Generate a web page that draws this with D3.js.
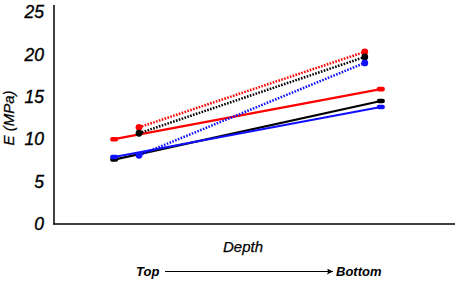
<!DOCTYPE html>
<html>
<head>
<meta charset="utf-8">
<script src="https://cdn.jsdelivr.net/npm/d3@7"></script>
<style>
  body { margin: 0; background: #fff; }
  text { font-family: "Liberation Sans", Arial, sans-serif; font-style: italic; }
</style>
</head>
<body>
<div id="chart"></div>
<script>
// depth positions (top -> bottom) for the two kinds of series
const depthSolid = [1.5, 8.15]
const depthDotted = [2.12, 7.75]

// E values (MPa) at top and bottom
const redSolid = [10.0, 15.9]
const blackSolid = [7.6, 14.5]
const blueSolid = [7.9, 13.8]
const redDotted = [11.4, 20.3]
const blackDotted = [10.7, 19.7]
const blueDotted = [8.1, 19.0]

const yTicks = [0, 5, 10, 15, 20, 25]

const series = [
    {depth: depthSolid, vals: redSolid, color: "#ff0000", dotted: false},
    {depth: depthSolid, vals: blackSolid, color: "#000000", dotted: false},
    {depth: depthSolid, vals: blueSolid, color: "#1010ff", dotted: false},
    {depth: depthDotted, vals: redDotted, color: "#ff0000", dotted: true},
    {depth: depthDotted, vals: blackDotted, color: "#000000", dotted: true},
    {depth: depthDotted, vals: blueDotted, color: "#1010ff", dotted: true}
]

const width = 457
const height = 282

const svg = d3.select("#chart")
    .append("svg")
    .attr("width", width)
    .attr("height", height)

const x = d3.scaleLinear().domain([0, 10]).range([54, 455])
const y = d3.scaleLinear().domain([0, 25]).range([224, 12])

// axes
const yAxis = svg.append("g")
    .attr("transform", "translate(54,0)")
    .call(d3.axisLeft(y).tickValues(yTicks).tickSize(0).tickPadding(10))
yAxis.select(".domain").remove()
yAxis.selectAll("text")
    .style("font-size", "17.5px")
    .attr("fill", "#000")
    .attr("stroke", "#000")
    .attr("stroke-width", 0.35)

svg.append("line")
    .attr("x1", 54).attr("x2", 54)
    .attr("y1", 5).attr("y2", 224.5)
    .attr("stroke", "#000").attr("stroke-width", 1.5)
svg.append("line")
    .attr("x1", 53.3).attr("x2", 455)
    .attr("y1", 224).attr("y2", 224)
    .attr("stroke", "#000").attr("stroke-width", 1.5)

// lines
const line = d3.line()
    .x(d => x(d[0]))
    .y(d => y(d[1]))

series.forEach(s => {
    const pts = s.depth.map((d, i) => [d, s.vals[i]])
    svg.append("path")
        .datum(pts)
        .attr("d", line)
        .attr("fill", "none")
        .attr("stroke", s.color)
        .attr("stroke-width", s.dotted ? 2.5 : 2.2)
        .attr("stroke-dasharray", s.dotted ? "1.6,1.4" : null)

    if (s.dotted) {
        svg.selectAll(null)
            .data(pts)
            .join("circle")
            .attr("cx", d => x(d[0]))
            .attr("cy", d => y(d[1]))
            .attr("r", 3.4)
            .attr("fill", s.color)
    } else {
        svg.selectAll(null)
            .data(pts)
            .join("rect")
            .attr("x", d => x(d[0]) - 4)
            .attr("y", d => y(d[1]) - 2.3)
            .attr("width", 8)
            .attr("height", 4.6)
            .attr("rx", 2)
            .attr("fill", s.color)
    }
})

// titles
svg.append("text")
    .attr("transform", "translate(14,118) rotate(-90)")
    .attr("text-anchor", "middle")
    .style("font-size", "15px")
    .attr("stroke", "#000")
    .attr("stroke-width", 0.25)
    .text("E (MPa)")

svg.append("text")
    .attr("x", 243).attr("y", 252)
    .attr("text-anchor", "middle")
    .style("font-size", "15px")
    .attr("stroke", "#000")
    .attr("stroke-width", 0.25)
    .text("Depth")

svg.append("text")
    .attr("x", 136).attr("y", 276)
    .style("font-size", "13px")
    .style("font-weight", "bold")
    .text("Top")
svg.append("text")
    .attr("x", 336).attr("y", 276)
    .style("font-size", "13px")
    .style("font-weight", "bold")
    .text("Bottom")

// arrow
svg.append("defs").append("marker")
    .attr("id", "arrow")
    .attr("viewBox", "0 0 10 10")
    .attr("refX", 10).attr("refY", 5)
    .attr("markerWidth", 11).attr("markerHeight", 6)
    .attr("markerUnits", "userSpaceOnUse")
    .attr("orient", "auto")
    .append("path")
    .attr("d", "M0,0 L10,5 L0,10 L2,5 Z")
    .attr("fill", "#000")
svg.append("line")
    .attr("x1", 165).attr("x2", 333)
    .attr("y1", 271.5).attr("y2", 271.5)
    .attr("stroke", "#000").attr("stroke-width", 1.2)
    .attr("marker-end", "url(#arrow)")
</script>
</body>
</html>
